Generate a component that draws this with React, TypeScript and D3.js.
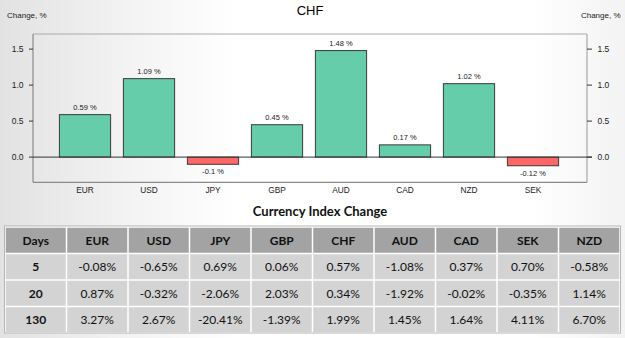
import React from "react";
import * as d3 from "d3";

// Bar chart data: change in % for each currency against CHF
const currencies = ["EUR", "USD", "JPY", "GBP", "AUD", "CAD", "NZD", "SEK"];
const changes = [0.59, 1.09, -0.1, 0.45, 1.48, 0.17, 1.02, -0.12];
const yTicks = [0.0, 0.5, 1.0, 1.5];

// Currency index table
const tableHeader = ["Days", "EUR", "USD", "JPY", "GBP", "CHF", "AUD", "CAD", "SEK", "NZD"];
const tableDays = ["5", "20", "130"];
const row5 = ["-0.08%", "-0.65%", "0.69%", "0.06%", "0.57%", "-1.08%", "0.37%", "0.70%", "-0.58%"];
const row20 = ["0.87%", "-0.32%", "-2.06%", "2.03%", "0.34%", "-1.92%", "-0.02%", "-0.35%", "1.14%"];
const row130 = ["3.27%", "2.67%", "-20.41%", "-1.39%", "1.99%", "1.45%", "1.64%", "4.11%", "6.70%"];
const tableRows = [row5, row20, row130];

const W = 625;
const H = 338;
const chartFont = "'Liberation Sans', Arial, sans-serif";
const tableFont = "Lato, 'Open Sans', sans-serif";

export default function App() {
  const frame = { left: 33, right: 587, top: 34, bottom: 182.3 };

  const x = d3
    .scaleBand<string>()
    .domain(currencies)
    .range([53, 565])
    .paddingInner(0.2)
    .paddingOuter(0.1);

  const y = d3.scaleLinear().domain([-0.35, 1.71]).range([frame.bottom, frame.top]);
  const fmt = d3.format(".1f");

  // Table layout
  const tLeft = 5;
  const tRight = 620;
  const colW = (tRight - tLeft) / tableHeader.length;
  const rowTops = [227, 253.5, 280, 306.5];
  const rowH = 26.5;
  const gap = 1.5;

  return (
    <svg
      width={W}
      height={H}
      style={{ position: "absolute", left: 0, top: 0 }}
      xmlns="http://www.w3.org/2000/svg"
    >
      <defs>
        <linearGradient id="bgGrad" x1="0" y1="0" x2="1" y2="0">
          <stop offset="0" stopColor="#e2e2e2" />
          <stop offset="0.18" stopColor="#f1f1f1" />
          <stop offset="0.38" stopColor="#ffffff" />
          <stop offset="0.85" stopColor="#ffffff" />
          <stop offset="1" stopColor="#f3f3f3" />
        </linearGradient>
      </defs>
      <rect x={0} y={0} width={W} height={H} fill="url(#bgGrad)" />

      {/* Title and axis captions */}
      <text x={310} y={15} textAnchor="middle" fontFamily={chartFont} fontSize={13} fill="#000">
        CHF
      </text>
      <text x={7} y={17.7} fontFamily={chartFont} fontSize={8} fill="#222">
        Change, %
      </text>
      <text x={620.5} y={17.7} textAnchor="end" fontFamily={chartFont} fontSize={8} fill="#222">
        Change, %
      </text>

      {/* Plot frame */}
      <line x1={frame.left} y1={frame.top} x2={frame.right} y2={frame.top} stroke="#aaa" strokeWidth={1.2} />
      <line x1={frame.right} y1={frame.top} x2={frame.right} y2={frame.bottom} stroke="#aaa" strokeWidth={1.2} />
      <line x1={frame.left} y1={frame.top} x2={frame.left} y2={frame.bottom} stroke="#8a8a8a" strokeWidth={1.2} />
      <line x1={frame.left} y1={frame.bottom} x2={frame.right} y2={frame.bottom} stroke="#8a8a8a" strokeWidth={1.2} />

      {/* Y ticks both sides */}
      {yTicks.map((t) => (
        <g key={t}>
          <line x1={29} x2={frame.left} y1={y(t)} y2={y(t)} stroke="#333" strokeWidth={1} />
          <text x={23.5} y={y(t) + 3} textAnchor="end" fontFamily={chartFont} fontSize={8.5} fill="#222">
            {fmt(t)}
          </text>
          <line x1={frame.right} x2={592} y1={y(t)} y2={y(t)} stroke="#333" strokeWidth={1} />
          <text x={597.5} y={y(t) + 3} fontFamily={chartFont} fontSize={8.5} fill="#222">
            {fmt(t)}
          </text>
        </g>
      ))}

      {/* Bars */}
      {currencies.map((c, i) => {
        const v = changes[i];
        const x0 = x(c) as number;
        const top = y(Math.max(v, 0));
        const bot = y(Math.min(v, 0));
        const cx = x0 + x.bandwidth() / 2;
        return (
          <g key={c}>
            <rect
              x={x0}
              y={top}
              width={x.bandwidth()}
              height={bot - top}
              fill={v >= 0 ? "#66cdaa" : "#ff6666"}
              stroke="#3a3a3a"
              strokeWidth={1}
            />
            <text
              x={cx}
              y={v >= 0 ? top - 5 : bot + 10}
              textAnchor="middle"
              fontFamily={chartFont}
              fontSize={7.5}
              fill="#222"
            >
              {`${v} %`}
            </text>
            <text x={cx} y={192.7} textAnchor="middle" fontFamily={chartFont} fontSize={8.3} fill="#222">
              {c}
            </text>
          </g>
        );
      })}

      {/* Zero line */}
      <line x1={frame.left} x2={592} y1={y(0)} y2={y(0)} stroke="#333" strokeWidth={1} />

      {/* Table caption */}
      <text
        x={320}
        y={215.5}
        textAnchor="middle"
        fontFamily={tableFont}
        fontWeight="bold"
        fontSize={13}
        fill="#111"
      >
        Currency Index Change
      </text>

      {/* Table */}
      <rect x={tLeft - 0.5} y={226} width={tRight - tLeft + 1} height={107} fill="#fff" stroke="#b5b5b5" strokeWidth={1} />
      {tableHeader.map((h, ci) => (
        <g key={h}>
          <rect
            x={tLeft + ci * colW + gap / 2}
            y={rowTops[0] + gap / 2}
            width={colW - gap}
            height={rowH - gap}
            fill="#a3a3a3"
          />
          <text
            x={tLeft + ci * colW + colW / 2}
            y={rowTops[0] + 18}
            textAnchor="middle"
            fontFamily={tableFont}
            fontWeight="bold"
            fontSize={12}
            fill="#111"
          >
            {h}
          </text>
        </g>
      ))}
      {tableRows.map((row, ri) => {
        const cells = [tableDays[ri], ...row];
        const top = rowTops[ri + 1];
        return (
          <g key={tableDays[ri]}>
            {cells.map((v, ci) => (
              <g key={ci}>
                <rect
                  x={tLeft + ci * colW + gap / 2}
                  y={top + gap / 2}
                  width={colW - gap}
                  height={rowH - gap}
                  fill="#d3d3d3"
                />
                <text
                  x={tLeft + ci * colW + colW / 2}
                  y={top + 17.5}
                  textAnchor="middle"
                  fontFamily={tableFont}
                  fontWeight={ci === 0 ? "bold" : "normal"}
                  fontSize={12}
                  fill="#111"
                >
                  {v}
                </text>
              </g>
            ))}
          </g>
        );
      })}
    </svg>
  );
}
